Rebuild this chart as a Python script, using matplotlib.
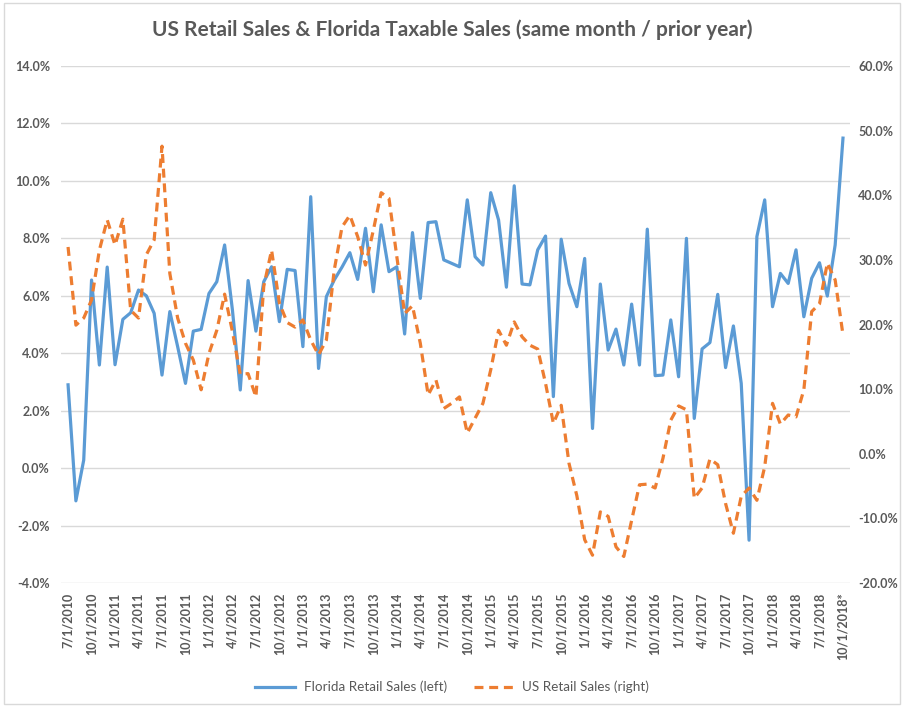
import matplotlib.pyplot as plt
from matplotlib.ticker import FuncFormatter, MultipleLocator
from matplotlib.patches import Rectangle

plt.rcParams['font.family'] = ['Lato', 'DejaVu Sans']

# monthly, 7/1/2010 .. 10/1/2018, percent change vs same month prior year
florida = [2.9, -1.14, 0.28, 6.55, 3.59, 7.0, 3.6, 5.18, 5.41, 6.2,
           6.0, 5.39, 3.24, 5.45, 4.23, 2.95, 4.77, 4.83, 6.08, 6.49,
           7.77, 5.5, 2.72, 6.53, 4.77, 6.49, 7.01, 5.1, 6.92, 6.88,
           4.23, 9.45, 3.47, 5.97, 6.55, 7.0, 7.5, 6.57, 8.35, 6.14,
           8.47, 6.84, 7.01, 4.67, 8.2, 5.91, 8.55, 8.58, 7.25, 7.13,
           7.01, 9.34, 7.36, 7.07, 9.59, 8.64, 6.3, 9.83, 6.41, 6.38,
           7.6, 8.08, 2.49, 7.97, 6.43, 5.62, 7.3, 1.38, 6.41, 4.11,
           4.84, 3.59, 5.71, 3.59, 8.32, 3.22, 3.24, 5.16, 3.18, 8.0,
           1.73, 4.15, 4.37, 6.05, 3.5, 4.95, 2.95, -2.51, 8.06, 9.34,
           5.62, 6.78, 6.43, 7.6, 5.27, 6.61, 7.15, 5.99, 7.77, 11.49]

us = [32.0, 19.9, 21.0, 23.8, 31.5, 36.2, 32.3, 36.3, 22.2, 21.0,
      30.8, 33.1, 47.6, 27.9, 21.0, 17.1, 14.5, 9.9, 15.5, 19.1,
      24.7, 18.9, 12.3, 12.4, 8.8, 25.9, 31.5, 23.3, 20.3, 19.6,
      20.7, 17.6, 15.3, 17.6, 28.4, 35.1, 36.9, 33.6, 29.2, 34.6,
      40.4, 39.5, 30.5, 21.7, 22.9, 17.1, 9.1, 11.4, 7.0, 7.8,
      8.8, 3.2, 5.5, 7.8, 13.0, 19.1, 16.8, 20.4, 18.1, 16.8,
      16.2, 10.9, 4.7, 7.5, -1.5, -6.5, -13.3, -15.7, -9.0, -9.7,
      -14.4, -15.9, -10.3, -4.8, -4.7, -5.3, -0.7, 5.2, 7.4, 6.8,
      -6.9, -5.3, -0.8, -1.7, -7.7, -12.3, -6.6, -5.3, -7.2, -2.0,
      7.8, 4.6, 6.0, 5.7, 9.9, 22.0, 23.2, 29.5, 26.9, 18.4]

tick_labels = ["7/1/2010", "10/1/2010", "1/1/2011", "4/1/2011", "7/1/2011",
               "10/1/2011", "1/1/2012", "4/1/2012", "7/1/2012", "10/1/2012",
               "1/1/2013", "4/1/2013", "7/1/2013", "10/1/2013", "1/1/2014",
               "4/1/2014", "7/1/2014", "10/1/2014", "1/1/2015", "4/1/2015",
               "7/1/2015", "10/1/2015", "1/1/2016", "4/1/2016", "7/1/2016",
               "10/1/2016", "1/1/2017", "4/1/2017", "7/1/2017", "10/1/2017",
               "1/1/2018", "4/1/2018", "7/1/2018", "10/1/2018*"]

gray = "#595959"
x = list(range(len(florida)))

fig = plt.figure(figsize=(9.04, 7.07), dpi=100)
fig.patches.append(Rectangle((0.004, 0.004), 0.992, 0.992, transform=fig.transFigure,
                             fill=False, edgecolor="#D9D9D9", lw=1))
ax = fig.add_axes([0.0675, 0.1754, 0.8728, 0.7312])
ax2 = ax.twinx()

fl_line, = ax.plot(x, florida, color="#5B9BD5", lw=2.3, solid_joinstyle="round",
                   label="Florida Retail Sales (left)")
us_line, = ax2.plot(x, us, color="#ED7D31", lw=2.3, dashes=(2.8, 1.8),
                    dash_capstyle="butt", label="US Retail Sales (right)")

ax.set_xlim(-0.9, 99.9)
ax.set_ylim(-4, 14)
ax2.set_ylim(-20, 60)
ax.yaxis.set_major_locator(MultipleLocator(2))
ax2.yaxis.set_major_locator(MultipleLocator(10))
pct = FuncFormatter(lambda v, p: f"{v:.1f}%")
ax.yaxis.set_major_formatter(pct)
ax2.yaxis.set_major_formatter(pct)

ax.set_xticks(x[::3])
ax.set_xticklabels(tick_labels, rotation=90, fontsize=9.3, fontweight="bold", color=gray)
ax.grid(axis="y", color="#D9D9D9", lw=1)
ax.set_axisbelow(True)

for a in (ax, ax2):
    for s in a.spines.values():
        s.set_visible(False)
    a.tick_params(length=0, labelsize=9, labelcolor=gray)
for lab in ax.get_yticklabels() + ax2.get_yticklabels():
    lab.set_fontweight("bold")
ax.tick_params(axis="y", pad=8)
ax2.tick_params(axis="y", pad=6)
ax.tick_params(axis="x", pad=7)

fig.suptitle("US Retail Sales & Florida Taxable Sales (same month / prior year)",
             x=0.5, y=0.972, fontsize=15, fontweight="bold", color=gray)

fig.legend(handles=[fl_line, us_line], loc="center", bbox_to_anchor=(0.5, 0.028),
           ncol=2, frameon=False, fontsize=9.7, handlelength=3.0, handletextpad=0.6,
           columnspacing=2.0, labelcolor=gray)

fig.savefig("out.png", dpi=100)
